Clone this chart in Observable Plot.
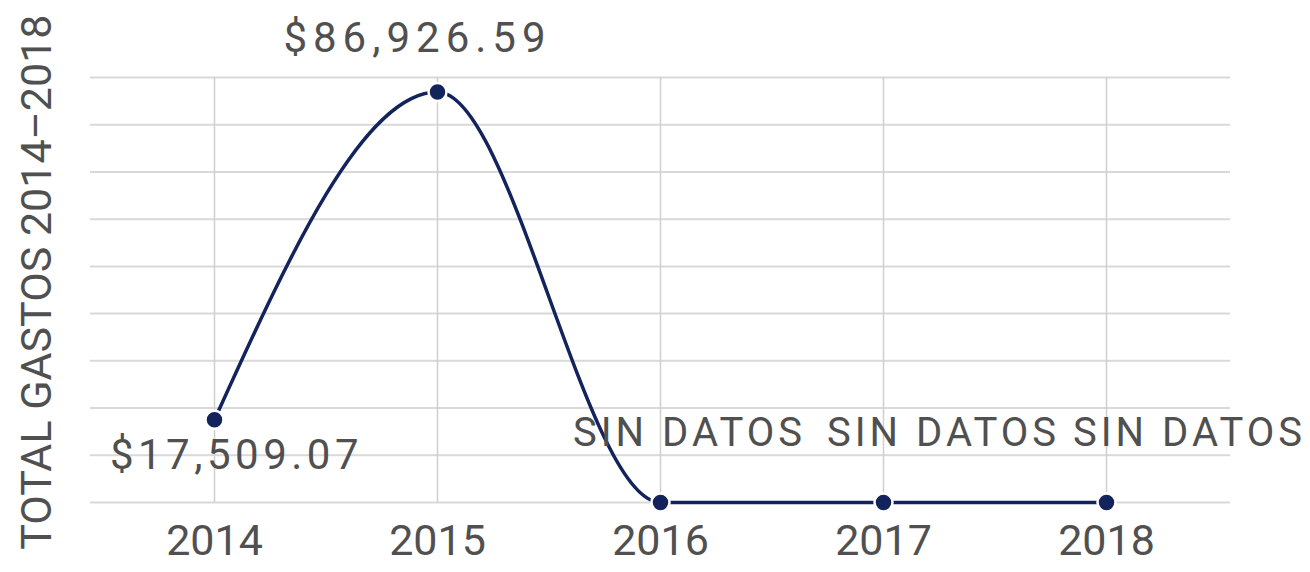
<!DOCTYPE html>
<html>
<head>
<meta charset="utf-8">
<script src="https://cdn.jsdelivr.net/npm/d3@7"></script>
<script src="https://cdn.jsdelivr.net/npm/@observablehq/plot@0.6"></script>
<style>
  html, body { margin: 0; padding: 0; background: #fff; }
  #chart svg { display: block; }
</style>
</head>
<body>
<div id="chart"></div>
<script>
const years = ["2014", "2015", "2016", "2017", "2018"];
const totals = [17509.07, 86926.59, 0, 0, 0];
const labels = ["$17,509.07", "$86,926.59", "SIN DATOS", "SIN DATOS", "SIN DATOS"];
const yTicks = [0, 10000, 20000, 30000, 40000, 50000, 60000, 70000, 80000, 90000];
const yTitle = "TOTAL GASTOS 2014–2018";

const data = years.map((y, i) => ({year: y, total: totals[i], label: labels[i], i}));

const navy = "#13235b";
const textColor = "#505050";
const font = "Roboto, 'Open Sans', sans-serif";

const labelStyle = {fontSize: 42, fill: textColor, fontFamily: font};

const chart = Plot.plot({
  width: 1310,
  height: 572,
  marginTop: 77,
  marginBottom: 70,
  marginLeft: 90,
  marginRight: 80,
  style: {fontFamily: font, background: "#fff", overflow: "visible"},
  x: {type: "point", domain: years, padding: 0.556, label: null},
  y: {domain: [0, 90000], label: null, axis: null},
  marks: [
    Plot.ruleY(yTicks, {stroke: "#d9d9d9", strokeWidth: 2}),
    Plot.ruleX(years, {stroke: "#cfcfcf", strokeWidth: 1.5, y1: 90000, y2: 0}),
    Plot.axisX({tickSize: 0, tickPadding: 22, fontSize: 43, fill: textColor, color: textColor}),
    Plot.line(data, {x: "year", y: "total", stroke: navy, strokeWidth: 3.5, curve: "monotone-x"}),
    Plot.dot(data, {x: "year", y: "total", r: 9, fill: navy, stroke: "#fff", strokeWidth: 2.5}),
    Plot.text(data.filter(d => d.i === 0), {x: "year", y: "total", text: "label", dx: 22, dy: 36, ...labelStyle}),
    Plot.text(data.filter(d => d.i === 1), {x: "year", y: "total", text: "label", dx: -20, dy: -53, ...labelStyle}),
    Plot.text(data.filter(d => d.i === 2), {x: "year", y: "total", text: "label", dx: 29, dy: -69, ...labelStyle, fontSize: 40}),
    Plot.text(data.filter(d => d.i === 3), {x: "year", y: "total", text: "label", dx: 60, dy: -69, ...labelStyle, fontSize: 40}),
    Plot.text(data.filter(d => d.i === 4), {x: "year", y: "total", text: "label", dx: 83, dy: -69, ...labelStyle, fontSize: 40}),
    Plot.text([yTitle], {frameAnchor: "top-left", text: d => d, rotate: -90, textAnchor: "end", lineAnchor: "middle", dx: -53, dy: -63, fontSize: 43, fill: textColor, fontFamily: font})
  ]
});

// letter spacing for labels
chart.querySelectorAll("text").forEach(t => {
  const s = t.textContent;
  if (s === "SIN DATOS") t.setAttribute("letter-spacing", "4");
  else if (s === "$86,926.59") t.setAttribute("letter-spacing", "6");
  else if (s === "$17,509.07") t.setAttribute("letter-spacing", "4.5");
});

document.getElementById("chart").appendChild(chart);
</script>
</body>
</html>
